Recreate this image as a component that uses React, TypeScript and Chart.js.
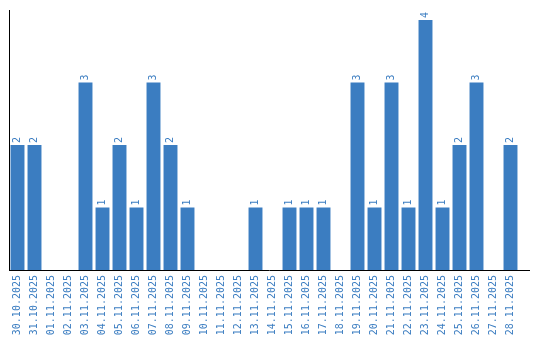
import React, { useEffect, useRef } from "react";
import { Chart, registerables } from "chart.js";

Chart.register(...registerables);

const categories: string[] = [
  "30.10.2025", "31.10.2025", "01.11.2025", "02.11.2025", "03.11.2025",
  "04.11.2025", "05.11.2025", "06.11.2025", "07.11.2025", "08.11.2025",
  "09.11.2025", "10.11.2025", "11.11.2025", "12.11.2025", "13.11.2025",
  "14.11.2025", "15.11.2025", "16.11.2025", "17.11.2025", "18.11.2025",
  "19.11.2025", "20.11.2025", "21.11.2025", "22.11.2025", "23.11.2025",
  "24.11.2025", "25.11.2025", "26.11.2025", "27.11.2025", "28.11.2025",
];

const counts: number[] = [
  2, 2, 0, 0, 3, 1, 2, 1, 3, 2,
  1, 0, 0, 0, 1, 0, 1, 1, 1, 0,
  3, 1, 3, 1, 4, 1, 2, 3, 0, 2,
];

const BLUE = "#3b7dc1";
const FONT = "DejaVu Sans Mono";

const valueLabels = {
  id: "valueLabels",
  afterDatasetsDraw(chart: any) {
    const ctx = chart.ctx;
    const meta = chart.getDatasetMeta(0);
    const data = chart.data.datasets[0].data as number[];
    ctx.save();
    ctx.fillStyle = BLUE;
    ctx.font = `10px "${FONT}"`;
    ctx.textAlign = "left";
    ctx.textBaseline = "middle";
    meta.data.forEach((bar: any, i: number) => {
      const v = data[i];
      if (!v) return;
      ctx.save();
      ctx.translate(bar.x, bar.y - 2);
      ctx.rotate(-Math.PI / 2);
      ctx.fillText(String(v), 0, 0);
      ctx.restore();
    });
    ctx.restore();
  },
};

const baseLine = {
  id: "baseLine",
  afterDraw(chart: any) {
    const ctx = chart.ctx;
    const { left, bottom } = chart.chartArea;
    ctx.save();
    ctx.strokeStyle = "#000";
    ctx.lineWidth = 1;
    ctx.beginPath();
    ctx.moveTo(left, Math.round(bottom) + 0.5);
    ctx.lineTo(chart.width - 10, Math.round(bottom) + 0.5);
    ctx.stroke();
    ctx.restore();
  },
};

export default function App() {
  const ref = useRef<HTMLCanvasElement>(null);
  useEffect(() => {
    if (!ref.current) return;
    const chart = new Chart(ref.current, {
      type: "bar",
      data: {
        labels: categories,
        datasets: [
          {
            data: counts,
            backgroundColor: BLUE,
            borderWidth: 0,
            barPercentage: 0.82,
            categoryPercentage: 1,
          },
        ],
      },
      options: {
        animation: false,
        responsive: false,
        maintainAspectRatio: false,
        layout: { padding: { left: 9, right: 21, top: 10, bottom: 0 } },
        plugins: {
          legend: { display: false },
          tooltip: { enabled: false },
        },
        scales: {
          x: {
            grid: { display: false, drawTicks: false },
            border: { display: false },
            ticks: {
              color: BLUE,
              font: { family: FONT, size: 10 },
              maxRotation: 90,
              minRotation: 90,
              autoSkip: false,
              padding: 5,
            },
            afterFit(scale: any) {
              scale.height = 70;
            },
          },
          y: {
            min: 0,
            max: 4.16,
            grid: { display: false, drawTicks: false },
            border: { display: true, color: "#000", width: 1 },
            ticks: { display: false },
            afterFit(scale: any) {
              scale.width = 0;
            },
          },
        },
      },
      plugins: [valueLabels, baseLine],
    });
    return () => chart.destroy();
  }, []);
  return (
    <div style={{ position: "fixed", left: 0, top: 0, width: 540, height: 340 }}>
      <canvas ref={ref} width={540} height={340} style={{ width: 540, height: 340 }} />
    </div>
  );
}
